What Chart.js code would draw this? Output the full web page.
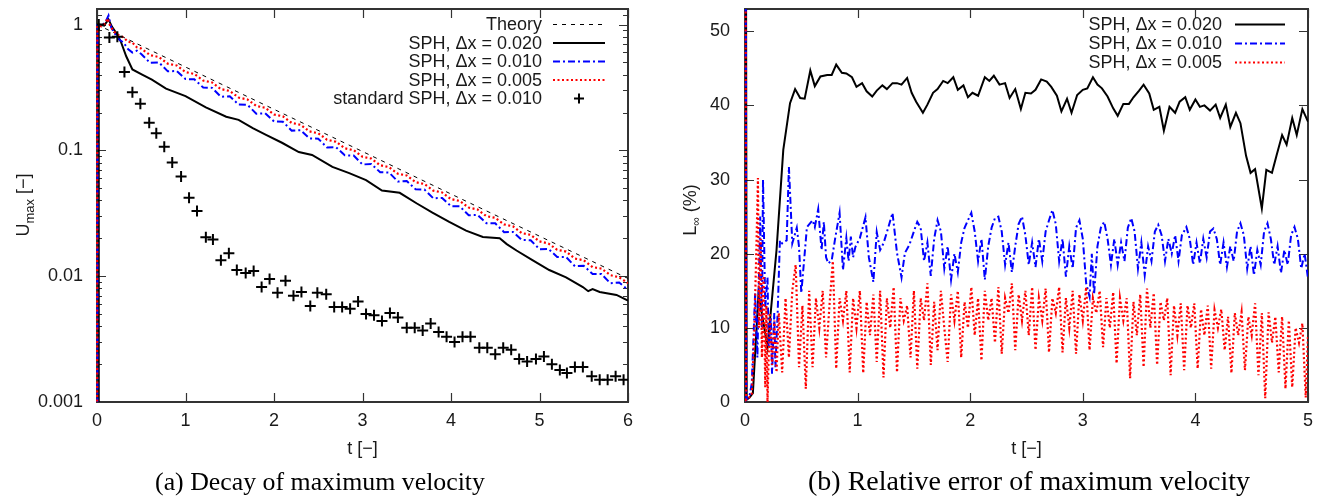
<!DOCTYPE html>
<html><head><meta charset="utf-8">
<script src="https://cdn.jsdelivr.net/npm/chart.js@4.4.1/dist/chart.umd.min.js"></script>
<style>
html,body{margin:0;padding:0;background:#fff;width:1330px;height:501px;overflow:hidden}
#wl{position:absolute;left:0;top:0;width:665px;height:501px}
#wr{position:absolute;left:665px;top:0;width:665px;height:501px}
</style></head><body>
<div id="wl"><canvas id="cl" width="665" height="501"></canvas></div>
<div id="wr"><canvas id="cr" width="665" height="501"></canvas></div>
<script>
// ---------- (a) Decay of maximum velocity ----------
const xTicksA = [0,1,2,3,4,5,6];
const yTicksA = [0.001,0.01,0.1,1];
const yTickLabelsA = ['0.001','0.01','0.1','1'];

const tTheory = [0,1,2,3,4,5,6];
const uTheory = [1,0.46,0.212,0.098,0.045,0.0208,0.0096];

const tSph020A = [0.015,0.02,0.08,0.13,0.17,0.23,0.27,0.33,0.4,0.51,0.62,0.78,1.0,1.23,1.46,1.6,1.76,1.91,2.09,2.28,2.43,2.66,2.85,3.04,3.22,3.42,3.61,3.79,3.98,4.17,4.36,4.55,4.63,4.74,4.92,5.11,5.3,5.49,5.55,5.6,5.68,5.87,6.0];
const uSph020A = [1e-6,1.0,0.98,1.1,0.96,0.83,0.73,0.56,0.44,0.40,0.365,0.31,0.27,0.22,0.185,0.175,0.15,0.133,0.115,0.097,0.092,0.074,0.066,0.058,0.048,0.046,0.038,0.032,0.027,0.023,0.0205,0.020,0.018,0.016,0.0134,0.0112,0.0098,0.0082,0.0076,0.0079,0.0075,0.0071,0.0064];

const tGridA = [0.5,0.6,0.7,0.8,0.9,1.0,1.1,1.2,1.3,1.4,1.5,1.6,1.7,1.8,1.9,2.0,2.1,2.2,2.3,2.4,2.5,2.6,2.7,2.8,2.9,3.0,3.1,3.2,3.3,3.4,3.5,3.6,3.7,3.8,3.9,4.0,4.1,4.2,4.3,4.4,4.5,4.6,4.7,4.8,4.9,5.0,5.1,5.2,5.3,5.4,5.5,5.6,5.7,5.8,5.9,6.0];

const tSph010Start = [0.004,0.006,0.05,0.09,0.13,0.16,0.2,0.25,0.3,0.35,0.4,0.45];
const uSph010Start = [1e-6,0.99,0.98,1.03,1.18,0.95,0.85,0.76,0.72,0.64,0.6,0.62];
const uSph010A = [0.584,0.496,0.500,0.425,0.428,0.369,0.367,0.316,0.314,0.267,0.269,0.2315,0.2303,0.1958,0.1973,0.1698,0.1689,0.1436,0.1447,0.1246,0.1239,0.1053,0.1061,0.0914,0.0909,0.0773,0.0778,0.0670,0.0667,0.0566,0.0571,0.0491,0.0488,0.0416,0.0419,0.0360,0.0359,0.0305,0.0307,0.0264,0.0263,0.0224,0.0225,0.0194,0.0193,0.0164,0.0165,0.0142,0.0142,0.0120,0.0121,0.0104,0.0104,0.0088,0.0089,0.0078];

const tSph005Start = [0,0.003,0.05,0.09,0.12,0.15,0.2,0.25,0.3,0.35,0.4,0.45];
const uSph005Start = [1e-6,0.98,0.97,1.02,1.12,0.97,0.87,0.82,0.79,0.73,0.72,0.66];
const uSph005A = [0.645,0.572,0.552,0.489,0.473,0.419,0.405,0.359,0.347,0.307,0.297,0.263,0.254,0.2255,0.218,0.193,0.1866,0.1654,0.1598,0.1417,0.1369,0.1213,0.1172,0.1039,0.1004,0.0890,0.0860,0.0762,0.0736,0.0652,0.0631,0.0559,0.0540,0.0479,0.0463,0.0410,0.0396,0.0351,0.0339,0.0300,0.0291,0.0258,0.0249,0.0220,0.0213,0.0189,0.0182,0.0162,0.0157,0.0138,0.0134,0.0118,0.0115,0.0102,0.0098,0.0088];

const tStdA = [0.02,0.14,0.23,0.31,0.40,0.49,0.59,0.67,0.76,0.85,0.95,1.04,1.13,1.23,1.31,1.40,1.49,1.58,1.68,1.77,1.86,1.95,2.04,2.13,2.22,2.31,2.41,2.49,2.59,2.68,2.77,2.86,2.95,3.04,3.13,3.22,3.31,3.40,3.50,3.59,3.68,3.77,3.86,3.95,4.04,4.13,4.22,4.32,4.41,4.50,4.59,4.68,4.77,4.86,4.96,5.05,5.14,5.23,5.31,5.40,5.49,5.59,5.68,5.77,5.86,5.95];
const uStdA = [1.0,0.79,0.80,0.42,0.29,0.235,0.166,0.137,0.107,0.080,0.062,0.042,0.033,0.0204,0.0196,0.0134,0.0152,0.0112,0.0106,0.011,0.0082,0.0095,0.0074,0.0092,0.0070,0.0075,0.0058,0.0074,0.0072,0.0057,0.0057,0.0055,0.0063,0.0050,0.0049,0.0044,0.0051,0.0047,0.0039,0.0039,0.0037,0.0042,0.0036,0.0033,0.0030,0.0033,0.0033,0.0027,0.0027,0.0024,0.0027,0.0026,0.0022,0.0021,0.0022,0.0023,0.0020,0.0018,0.0017,0.0019,0.0019,0.0016,0.0015,0.0015,0.0016,0.0015];

// ---------- (b) Relative error of maximum velocity ----------
const xTicksB = [0,1,2,3,4,5];
const yTicksB = [0,10,20,30,40,50];

const errSph020B = [[0.005,100],[0.015,0.3],[0.04,0.6],[0.07,1.2],[0.12,14.6],[0.2,7.4],[0.28,20.5],[0.34,34],[0.4,40.3],[0.445,42.2],[0.49,41],[0.53,40.9],[0.58,44.7],[0.62,42.6],[0.67,43.9],[0.73,44.1],[0.77,44.1],[0.81,45.5],[0.86,44.4],[0.9,44.3],[0.95,43.8],[0.99,42.5],[1.04,43],[1.08,41.9],[1.13,41.2],[1.17,42],[1.22,42.7],[1.26,42.2],[1.31,43],[1.35,43],[1.39,42.8],[1.44,43.7],[1.48,41.7],[1.52,40.5],[1.58,39],[1.62,40.1],[1.67,41.7],[1.71,42.2],[1.76,43.3],[1.8,43],[1.85,43.8],[1.89,42.1],[1.94,42.7],[1.98,41.1],[2.02,41.7],[2.07,41.3],[2.13,43.8],[2.17,43.3],[2.21,44],[2.26,42.8],[2.31,43],[2.35,41],[2.4,42.2],[2.45,39.5],[2.49,41.7],[2.54,41.6],[2.58,42.1],[2.63,43.5],[2.68,43.2],[2.72,42.5],[2.77,41.3],[2.81,39.2],[2.86,40.9],[2.9,39],[2.95,41.4],[3.0,42.1],[3.04,42.3],[3.09,43.8],[3.13,42.8],[3.17,42.3],[3.22,41.2],[3.27,39.6],[3.31,38.6],[3.36,40.2],[3.41,40.2],[3.45,41.1],[3.5,42],[3.54,42.8],[3.59,41.6],[3.63,39.4],[3.68,39.8],[3.72,36.6],[3.77,39.8],[3.82,39],[3.86,40.5],[3.91,41.1],[3.95,39.4],[4.0,40.8],[4.04,39.8],[4.08,40],[4.13,39.3],[4.18,40.1],[4.22,38.3],[4.27,40.1],[4.31,37.1],[4.36,39],[4.4,37.6],[4.45,33.2],[4.49,30.9],[4.53,31.4],[4.59,26.1],[4.63,31.3],[4.68,30.9],[4.72,33.2],[4.77,36],[4.81,34.7],[4.86,38.3],[4.9,36],[4.95,39.5],[5.0,37.8]];

const errSph010B = [[0.003,100],[0.012,0.3],[0.04,0.8],[0.06,2.5],[0.09,14.7],[0.11,6],[0.135,25],[0.15,10],[0.16,30],[0.18,12.8],[0.2,16.8],[0.21,7.4],[0.23,11.4],[0.24,3.8],[0.26,12],[0.27,4.7],[0.29,12],[0.31,21.8],[0.33,21.4],[0.37,21.8],[0.39,31.7],[0.42,21.4],[0.46,23.5],[0.48,20.9],[0.5,14.7],[0.53,20],[0.55,23.6],[0.6,24.5],[0.62,23.6],[0.65,26],[0.68,20.5],[0.7,24.3],[0.72,19.5],[0.74,18.7],[0.77,19.1],[0.8,22],[0.84,25.5],[0.87,17.8],[0.9,22.1],[0.92,19],[0.94,22.3],[0.96,19.5],[0.98,20.9],[1.02,22.1],[1.07,24.9],[1.1,19.5],[1.14,16.2],[1.17,22.9],[1.2,20.5],[1.23,21.4],[1.27,23.4],[1.31,25.5],[1.35,20.1],[1.39,16.8],[1.42,20.1],[1.46,21.2],
[1.5,23],[1.53,24.3],[1.56,23.5],[1.59,19],[1.62,21.5],[1.65,17],[1.68,22],[1.71,24.5],[1.74,23],[1.77,18],[1.8,21],[1.83,16.5],[1.86,20],[1.89,17.5],[1.92,21.5],[1.95,23.5],[1.98,24.5],[2.01,25.5],[2.04,23],[2.07,19],[2.1,22],[2.13,16.5],[2.16,21],[2.19,23.5],[2.22,24.8],[2.25,25],[2.28,23],[2.31,18.5],[2.34,21.5],[2.37,17.5],[2.4,21],[2.43,24],[2.46,25],[2.49,22.5],[2.52,18.5],[2.55,21.5],[2.58,18.2],[2.61,22],[2.64,19],[2.67,23],[2.7,24.5],[2.73,25.9],[2.76,24],[2.79,19],[2.82,22],[2.85,16.9],[2.88,21],[2.91,18],[2.94,23.5],[2.97,24.5],[3.0,22],[3.03,16],[3.06,14.2],[3.08,20],[3.1,14.5],[3.13,21],[3.16,23.5],[3.19,24.3],[3.22,22],[3.25,18.5],[3.28,22],[3.31,18.5],[3.34,21.5],[3.37,19],[3.4,23.5],[3.43,24.8],[3.46,23],[3.49,18],[3.52,21.5],[3.55,17.1],[3.58,21],[3.61,19],[3.64,23],[3.67,23.9],[3.7,22.5],[3.73,19],[3.76,22],[3.79,20],[3.82,22.5],[3.85,19],[3.88,22.5],[3.92,23.6],[3.95,22],[3.98,18.5],[4.01,21.5],[4.04,18.7],[4.07,22],[4.1,19.5],[4.13,23],[4.16,23.4],[4.19,22],[4.22,18.5],[4.25,21.5],[4.28,18.2],[4.31,21],[4.34,19],[4.37,23],[4.4,24.1],[4.43,22.5],[4.46,18],[4.49,21],[4.52,17.1],[4.55,20.5],[4.58,18.5],[4.61,23],[4.64,24.1],[4.67,22],[4.7,18.5],[4.73,21],[4.76,17.4],[4.79,20.5],[4.82,18.5],[4.85,22.5],[4.88,23.6],[4.91,22],[4.94,18],[4.97,20],[5.0,16.7]];

const tSph005B = [0.002,0.01,0.03,0.06,0.08,0.1,0.115,0.125,0.14,0.15,0.165,0.18,0.19,0.2,0.22,0.24,0.26,0.28,
0.30,0.33,0.36,0.39,0.42,0.45,0.48,0.51,0.54,0.57,
0.60,0.63,0.66,0.69,0.72,0.75,0.78,0.81,0.84,0.87,
0.90,0.93,0.96,0.99,1.02,1.05,1.08,1.11,1.14,1.17,
1.20,1.23,1.26,1.29,1.32,1.35,1.38,1.41,1.44,1.47,
1.50,1.53,1.56,1.59,1.62,1.65,1.68,1.71,1.74,1.77,
1.80,1.83,1.86,1.89,1.92,1.95,1.98,2.01,2.04,2.07,
2.10,2.13,2.16,2.19,2.22,2.25,2.28,2.31,2.34,2.37,
2.40,2.43,2.46,2.49,2.52,2.55,2.58,2.61,2.64,2.67,
2.70,2.73,2.76,2.79,2.82,2.85,2.88,2.91,2.94,2.97,
3.00,3.03,3.06,3.09,3.12,3.15,3.18,3.21,3.24,3.27,
3.30,3.33,3.36,3.39,3.42,3.45,3.48,3.51,3.54,3.57,
3.60,3.63,3.66,3.69,3.72,3.75,3.78,3.81,3.84,3.87,
3.90,3.93,3.96,3.99,4.02,4.05,4.08,4.11,4.14,4.17,
4.20,4.23,4.26,4.29,4.32,4.35,4.38,4.41,4.44,4.47,
4.50,4.53,4.56,4.59,4.62,4.65,4.68,4.71,4.74,4.77,
4.80,4.83,4.86,4.89,4.92,4.95,4.98,5.00];
const eSph005B = [100,0.3,0.5,1,8,20,30.2,10,22,6,17,2,13,0,12,5,11,4,
12,4,14,6,15,18.5,4.7,13,1.8,15,
4.7,14,10,15,6,13,19,4.5,14,11,
15,4,14,10,15,3.9,13.5,9,14.5,5.4,
15,3.3,14,10,15.5,4,14,11,13,6,
15,4.5,14,11,16,5,13.5,7,15,10,
5.4,14.5,11,15,6,13.5,10,15.5,9,14,
5.6,15,11,14,8,15.5,6.5,14,12,16,
7,14.5,11,15,9,15.5,7,14,11,15.3,
6.7,14,12,15.5,6.7,14,10,15,6.5,14.5,
11,15.5,7,14,12,15,7.4,14,10,14.8,
5.2,14,11,14,3.2,13.5,9,14.5,4.7,15.3,
10,14.7,5,13.5,11,14,3.6,13,9,13.3,
4.3,13,10,13.3,4.5,12.5,9,13,4.5,12.4,
10,12.5,7,11.5,3.9,12,9,12.1,4.3,11.5,
9,13.3,3.6,12,0.5,12.1,8,11.5,4,11.5,
1.8,11,2,10,8,10.6,0.6,9];

// ---------- helpers ----------
const FONT = '"Liberation Sans", Arial, Helvetica, sans-serif';
const zip = (t, v) => t.map((x, i) => ({x: x, y: v[i]}));
const pairs = (a) => a.map(p => ({x: p[0], y: p[1]}));

const framePlugin = {
  id: 'frame',
  beforeDatasetsDraw(chart, args, o) {
    const ctx = chart.ctx, ca = chart.chartArea;
    const xs = chart.scales.x, ys = chart.scales.y;
    ctx.save();
    ctx.strokeStyle = '#333';
    ctx.lineWidth = 1.2;
    ctx.beginPath();
    o.xTicks.forEach(v => {
      const px = Math.round(xs.getPixelForValue(v)) + 0.5;
      ctx.moveTo(px, ca.bottom); ctx.lineTo(px, ca.bottom - 9);
      ctx.moveTo(px, ca.top); ctx.lineTo(px, ca.top + 9);
    });
    o.yTicks.forEach(v => {
      const py = Math.round(ys.getPixelForValue(v)) + 0.5;
      ctx.moveTo(ca.left, py); ctx.lineTo(ca.left + 9, py);
      ctx.moveTo(ca.right, py); ctx.lineTo(ca.right - 9, py);
    });
    (o.yMinor || []).forEach(v => {
      const py = Math.round(ys.getPixelForValue(v)) + 0.5;
      ctx.moveTo(ca.left, py); ctx.lineTo(ca.left + 5, py);
      ctx.moveTo(ca.right, py); ctx.lineTo(ca.right - 5, py);
    });
    ctx.stroke();
    ctx.lineWidth = 2;
    ctx.strokeStyle = '#333';
    ctx.strokeRect(ca.left, ca.top, ca.right - ca.left, ca.bottom - ca.top);
    ctx.restore();
  }
};

const legendPlugin = {
  id: 'gnuLegend',
  afterDatasetsDraw(chart, args, o) {
    const ctx = chart.ctx;
    ctx.save();
    ctx.font = '18px ' + FONT;
    ctx.textAlign = 'right';
    ctx.textBaseline = 'middle';
    chart.data.datasets.forEach((ds, i) => {
      const y = o.top + i * o.rowH;
      ctx.fillStyle = '#1a1a1a';
      ctx.fillText(ds.label, o.textRight, y + 1);
      ctx.strokeStyle = ds.borderColor;
      if (ds.showLine === false) {
        const cx = (o.x0 + o.x1) / 2, r = 5;
        ctx.lineWidth = 2; ctx.setLineDash([]);
        ctx.beginPath();
        ctx.moveTo(cx - r, y); ctx.lineTo(cx + r, y);
        ctx.moveTo(cx, y - r); ctx.lineTo(cx, y + r);
        ctx.stroke();
      } else {
        ctx.lineWidth = ds.borderWidth;
        ctx.setLineDash(ds.borderDash || []);
        ctx.beginPath();
        ctx.moveTo(o.x0, y); ctx.lineTo(o.x1, y);
        ctx.stroke();
      }
    });
    ctx.restore();
  }
};

const titlesPlugin = {
  id: 'titles',
  afterDraw(chart, args, o) {
    const ctx = chart.ctx, ca = chart.chartArea;
    ctx.save();
    ctx.fillStyle = '#1a1a1a';
    ctx.font = '18px ' + FONT;
    ctx.textAlign = 'center';
    ctx.textBaseline = 'middle';
    ctx.fillText(o.xTitle, (ca.left + ca.right) / 2, o.xTitleY);
    ctx.save();
    ctx.translate(o.yTitleX, o.yTitleY);
    ctx.rotate(-Math.PI / 2);
    ctx.textAlign = 'left';
    ctx.textBaseline = 'alphabetic';
    let w = 0;
    o.yParts.forEach(p => { ctx.font = p.size + 'px ' + FONT; w += ctx.measureText(p.text).width; });
    let x = -w / 2;
    o.yParts.forEach(p => {
      ctx.font = p.size + 'px ' + FONT;
      ctx.fillText(p.text, x, p.dy);
      x += ctx.measureText(p.text).width;
    });
    ctx.restore();
    const serif = '"Liberation Serif", "DejaVu Serif", serif';
    ctx.font = '22px ' + serif;
    const mw = ctx.measureText(o.caption).width;
    const size = 22 * o.capW / mw;
    ctx.font = size.toFixed(2) + 'px ' + serif;
    ctx.fillStyle = '#000';
    ctx.textAlign = 'center';
    ctx.textBaseline = 'alphabetic';
    ctx.fillText(o.caption, o.capX, o.capY);
    ctx.restore();
  }
};

function fixWidth(w) { return s => { s.width = w; s.paddingTop = 0; s.paddingBottom = 0; }; }
function fixHeight(h) { return s => { s.height = h; s.paddingLeft = 0; s.paddingRight = 0; }; }

const lineBase = {pointRadius: 0, fill: false, tension: 0, clip: {left: 4, top: 0, right: 0, bottom: 0}};

// ---------- chart (a) ----------
const minorA = [];
[0.001, 0.01, 0.1].forEach(d => { for (let k = 2; k <= 9; k++) minorA.push(d * k); });
minorA.push(1.2);

new Chart(document.getElementById('cl'), {
  type: 'line',
  data: {
    datasets: [
      Object.assign({}, lineBase, {label: 'Theory', data: zip(tTheory, uTheory), borderColor: '#000', borderWidth: 1, borderDash: [4, 5], order: 4}),
      Object.assign({}, lineBase, {label: 'SPH, Δx = 0.020', data: zip(tSph020A, uSph020A), borderColor: '#000', borderWidth: 2, order: 3}),
      Object.assign({}, lineBase, {label: 'SPH, Δx = 0.010', data: zip(tSph010Start.concat(tGridA), uSph010Start.concat(uSph010A)), borderColor: '#0000ff', borderWidth: 2, borderDash: [7, 3, 2, 3], order: 2}),
      Object.assign({}, lineBase, {label: 'SPH, Δx = 0.005', data: zip(tSph005Start.concat(tGridA), uSph005Start.concat(uSph005A)), borderColor: '#ff0000', borderWidth: 2.2, borderDash: [2, 2.5], order: 1}),
      {label: 'standard SPH, Δx = 0.010', data: zip(tStdA, uStdA), showLine: false, pointStyle: 'cross', pointRadius: 5.5, pointBorderWidth: 2, borderColor: '#000', backgroundColor: '#000', order: 0}
    ]
  },
  options: {
    responsive: false, animation: false, events: [],
    layout: {padding: {left: 0, top: 9, right: 37, bottom: 59}},
    plugins: {
      legend: {display: false}, tooltip: {enabled: false},
      frame: {xTicks: xTicksA, yTicks: yTicksA, yMinor: minorA},
      gnuLegend: {top: 24.5, rowH: 18.5, textRight: 542, x0: 553, x1: 605},
      titles: {xTitle: 't [−]', xTitleY: 449, yTitleX: 29, yTitleY: 205,
        yParts: [{text: 'U', size: 18, dy: 0}, {text: 'max', size: 13, dy: 5}, {text: ' [−]', size: 18, dy: 0}],
        caption: '(a) Decay of maximum velocity', capW: 330, capX: 320, capY: 490}
    },
    scales: {
      x: {type: 'linear', min: 0, max: 6,
        afterBuildTicks: s => { s.ticks = xTicksA.map(v => ({value: v})); },
        afterFit: fixHeight(40),
        grid: {display: false, drawTicks: false}, border: {display: false},
        ticks: {font: {family: FONT, size: 18}, color: '#1a1a1a', padding: 8, maxRotation: 0, callback: v => String(v)}},
      y: {type: 'logarithmic', min: 0.001, max: 1.33,
        afterBuildTicks: s => { s.ticks = yTicksA.map(v => ({value: v})); },
        afterFit: fixWidth(97),
        grid: {display: false, drawTicks: false}, border: {display: false},
        ticks: {font: {family: FONT, size: 18}, color: '#1a1a1a', padding: 14, callback: (v, i) => yTickLabelsA[i]}}
    }
  },
  plugins: [framePlugin, legendPlugin, titlesPlugin]
});

// ---------- chart (b) ----------
new Chart(document.getElementById('cr'), {
  type: 'line',
  data: {
    datasets: [
      Object.assign({}, lineBase, {label: 'SPH, Δx = 0.020', data: pairs(errSph020B), borderColor: '#000', borderWidth: 2, order: 2}),
      Object.assign({}, lineBase, {label: 'SPH, Δx = 0.010', data: pairs(errSph010B), borderColor: '#0000ff', borderWidth: 2, borderDash: [7, 3, 2, 3], order: 1}),
      Object.assign({}, lineBase, {label: 'SPH, Δx = 0.005', data: zip(tSph005B, eSph005B), borderColor: '#ff0000', borderWidth: 2.2, borderDash: [2, 2.5], order: 0})
    ]
  },
  options: {
    responsive: false, animation: false, events: [],
    layout: {padding: {left: 0, top: 9, right: 22, bottom: 59}},
    plugins: {
      legend: {display: false}, tooltip: {enabled: false},
      frame: {xTicks: xTicksB, yTicks: yTicksB},
      gnuLegend: {top: 24.5, rowH: 19, textRight: 557, x0: 570, x1: 620},
      titles: {xTitle: 't [−]', xTitleY: 449, yTitleX: 31, yTitleY: 210,
        yParts: [{text: 'L', size: 18, dy: 0}, {text: '∞', size: 12, dy: 4}, {text: ' (%)', size: 18, dy: 0}],
        caption: '(b) Relative error of maximum velocity', capW: 442, capX: 364, capY: 490}
    },
    scales: {
      x: {type: 'linear', min: 0, max: 5,
        afterBuildTicks: s => { s.ticks = xTicksB.map(v => ({value: v})); },
        afterFit: fixHeight(40),
        grid: {display: false, drawTicks: false}, border: {display: false},
        ticks: {font: {family: FONT, size: 18}, color: '#1a1a1a', padding: 8, maxRotation: 0, callback: v => String(v)}},
      y: {type: 'linear', min: 0, max: 53,
        afterBuildTicks: s => { s.ticks = yTicksB.map(v => ({value: v})); },
        afterFit: fixWidth(80),
        grid: {display: false, drawTicks: false}, border: {display: false},
        ticks: {font: {family: FONT, size: 18}, color: '#1a1a1a', padding: 15, callback: v => String(v)}}
    }
  },
  plugins: [framePlugin, legendPlugin, titlesPlugin]
});
</script>
</body></html>
